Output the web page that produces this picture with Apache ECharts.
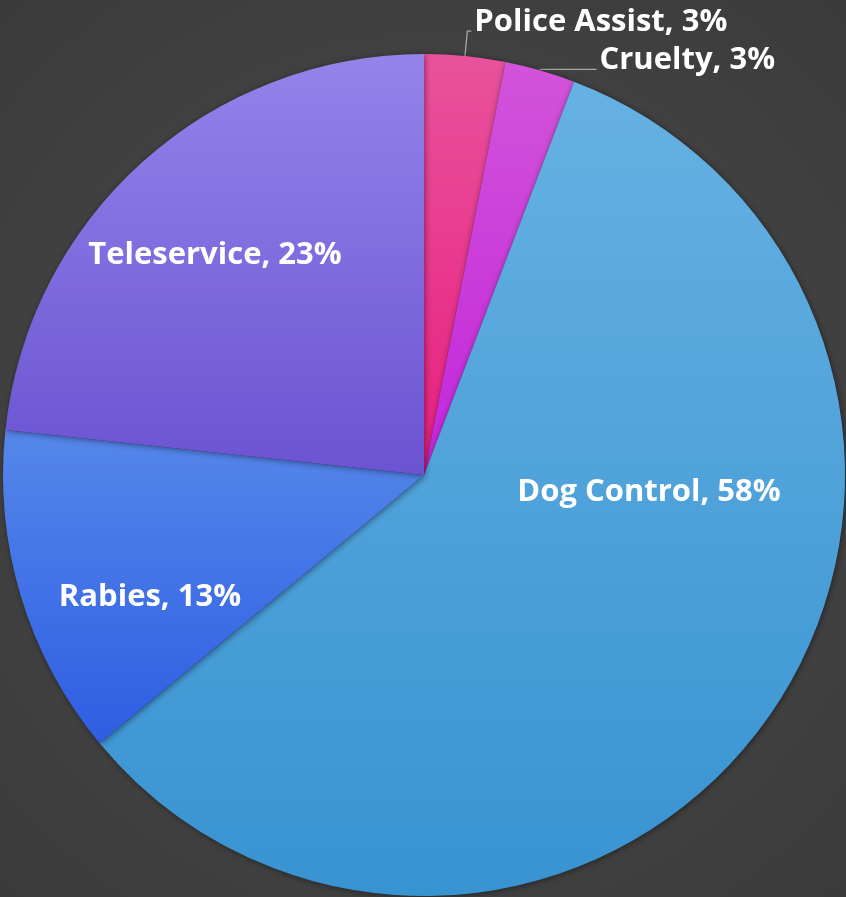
<!DOCTYPE html>
<html>
<head>
<meta charset="utf-8">
<script src="https://cdn.jsdelivr.net/npm/echarts@6/dist/echarts.min.js"></script>
<style>
html,body{margin:0;padding:0;background:#414141;}
#c{width:846px;height:897px;}
</style>
</head>
<body>
<div id="c"></div>
<script>
const categories = ['Police Assist', 'Cruelty', 'Dog Control', 'Rabies', 'Teleservice'];
const values = [3.1, 2.7, 58.2, 12.7, 23.3];
const topColors = ['#e9529d', '#d254d9', '#66b1e3', '#5687ea', '#9384ea'];
const bottomColors = ['#e81f7e', '#c325dc', '#3893d1', '#2e5de2', '#6b53d2'];

const chart = echarts.init(document.getElementById('c'), null, {renderer: 'canvas'});
const cx = 424, cy = 475, R = 421;
// inner label anchors (offsets from pie centre)
const innerLabelPos = {2: [225, 17], 3: [-274, 122], 4: [-209, -220]};

const labelText = p => p.name + ', ' + Math.round(p.percent) + '%';

const data = categories.map((name, i) => {
  const isOuter = i < 2;
  return {
    name: name,
    value: values[i],
    itemStyle: {
      color: new echarts.graphic.LinearGradient(0, 0, 0, 1, [
        {offset: 0, color: topColors[i]},
        {offset: 1, color: bottomColors[i]}
      ])
    },
    label: isOuter ? {
      position: 'outside',
      distanceToLabelLine: 3,
      formatter: p => '{t|' + labelText(p) + '}\n{s| }',
      rich: {
        t: {color: '#ffffff', fontFamily: 'Open Sans', fontWeight: 'bold', fontSize: 31, lineHeight: 38},
        s: {fontSize: 1, height: 18, lineHeight: 18}
      }
    } : {position: 'inside'},
    labelLine: isOuter ? {
      show: true,
      length: i === 0 ? 25 : 1,
      length2: i === 0 ? 4 : 56,
      lineStyle: {color: '#a6a6a6', width: 1.3}
    } : {show: false}
  };
});

chart.setOption({
  backgroundColor: new echarts.graphic.RadialGradient(0.5, 0.5, 0.75, [
    {offset: 0, color: '#4c4c4c'},
    {offset: 1, color: '#3a3a3a'}
  ]),
  animation: false,
  series: [{
    type: 'pie',
    center: [cx, cy],
    radius: [0, R],
    startAngle: 90,
    clockwise: true,
    avoidLabelOverlap: false,
    itemStyle: {
      borderWidth: 0,
      shadowBlur: 6,
      shadowColor: 'rgba(0,0,0,0.45)',
      shadowOffsetX: 1,
      shadowOffsetY: 1
    },
    label: {
      color: '#ffffff',
      fontFamily: 'Open Sans',
      fontWeight: 'bold',
      fontSize: 31,
      formatter: labelText
    },
    labelLayout: function (params) {
      const pos = innerLabelPos[params.dataIndex];
      if (!pos) return {};
      return {x: cx + pos[0], y: cy + pos[1], align: 'center', verticalAlign: 'middle'};
    },
    data: data
  }]
});
</script>
</body>
</html>
